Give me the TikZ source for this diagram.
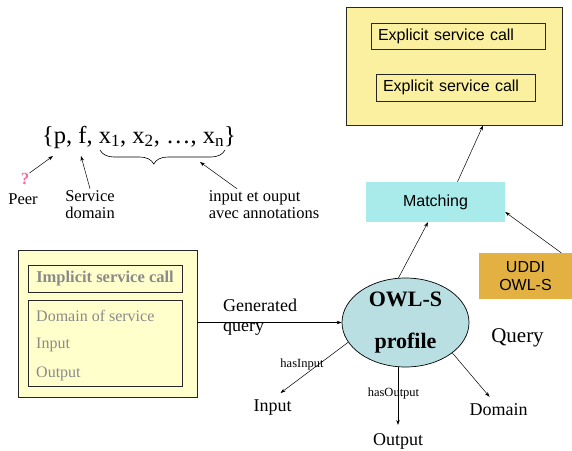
\documentclass[tikz,border=0pt]{standalone}
\usepackage{fontspec}
\setmainfont{Liberation Serif}
\setsansfont{Liberation Sans}
\usetikzlibrary{shapes.geometric,arrows.meta,decorations.pathreplacing}
\definecolor{callyellow}{HTML}{FAF0A0}
\definecolor{paleyellow}{HTML}{FFFFCC}
\definecolor{matchcyan}{HTML}{A9EBEA}
\definecolor{uddigold}{HTML}{E2B142}
\definecolor{owlblue}{HTML}{B9DFE2}
\definecolor{peerpink}{HTML}{F06EA0}
\definecolor{softgray}{HTML}{8A8A8A}
\begin{document}
\begin{tikzpicture}[x=1pt,y=-1pt,
    box/.style={draw=black!85,line width=0.9pt,inner sep=0pt},
    sanstxt/.style={font=\sffamily\fontsize{16}{18}\selectfont},
    serif/.style={font=\fontsize{16.5}{17}\selectfont,inner sep=0pt},
    label/.style={font=\fontsize{18}{20}\selectfont,inner sep=0pt},
    small/.style={font=\fontsize{12.5}{14}\selectfont,inner sep=0pt},
    arr/.style={-{Stealth[length=5pt,width=3.5pt]},line width=0.5pt}]
    \useasboundingbox (0,0) rectangle (572,450);
    \node [box,fill=callyellow,minimum width=216,minimum height=118] (explicit) at (454,66) {};
    \node [box,sanstxt,minimum width=174,minimum height=26,text width=160,align=left] (call1) at (458,36) {Explicit service call};
    \node [box,sanstxt,minimum width=159,minimum height=27,text width=145,align=left] (call2) at (455.5,87.5) {Explicit service call};
    \node [fill=matchcyan,sanstxt,minimum width=139,minimum height=40,inner sep=0pt] (match) at (435.5,202) {Matching};
    \node [fill=uddigold,sanstxt,minimum width=93,minimum height=46,inner sep=0pt,align=center] (uddi) at (525.5,276) {UDDI\\OWL-S};
    \node [ellipse,draw,line width=0.7pt,fill=owlblue,minimum width=127,minimum height=89,inner sep=0pt,align=center,
        font=\bfseries\fontsize{22}{26}\selectfont] (owl) at (405.5,322.5) {OWL-S\\[16pt]profile};
    \node [font=\fontsize{21}{24}\selectfont,inner sep=0pt] (query) at (517.5,338) {Query};
    \node [box,fill=paleyellow,minimum width=179,minimum height=147] (implbox) at (107.5,323.5) {};
    \node [box,minimum width=154,minimum height=27,text=softgray,font=\bfseries\fontsize{16.5}{18}\selectfont] (implicit) at (105,278.5) {Implicit service call};
    \node [box,minimum width=154,minimum height=86] (domainbox) at (105,343) {};
    \node [font=\fontsize{16}{18}\selectfont,inner sep=0pt,anchor=west,text=softgray] (domsvc) at (36,316) {Domain of service};
    \node [font=\fontsize{16}{18}\selectfont,inner sep=0pt,anchor=west,text=softgray] (insvc) at (36,345) {Input};
    \node [font=\fontsize{16}{18}\selectfont,inner sep=0pt,anchor=west,text=softgray] (outsvc) at (36,374) {Output};
    \node [label,anchor=west,align=left] (genq) at (223,317) {Generated\\query};
    \node [label] (input) at (272.5,408) {Input};
    \node [label] (output) at (398,441) {Output};
    \node [label] (domain) at (498.5,410) {Domain};
    \node [small] (hasin) at (302,364) {hasInput};
    \node [small] (hasout) at (393.5,393) {hasOutput};
    \node [font=\fontsize{24.5}{28}\selectfont,inner sep=0pt,anchor=base west] (tuple) at (42,143)
        {\{p, f, x\textsubscript{1}, x\textsubscript{2}, …, x\textsubscript{n}\}};
    \node [font=\bfseries\fontsize{17}{19}\selectfont,text=peerpink,inner sep=0pt] (qmark) at (25,179) {?};
    \node [serif] (peer) at (23,199) {Peer};
    \node [serif,align=left] (sdom) at (90,205) {Service\\domain};
    \node [serif,align=left] (annot) at (264,205) {input et ouput\\avec annotations};
    \coordinate (pfoot) at (53,156);
    \coordinate (ffoot) at (81,156);
    \coordinate (braceL) at (100,150);
    \coordinate (braceR) at (225,150);
    \coordinate (bracept) at (200,162);
    \draw [decorate,decoration={brace,mirror,amplitude=14pt,aspect=0.43},line width=0.6pt] (braceL) -- (braceR);
    \draw [arr] (qmark.north east) -- (pfoot);
    \draw [arr] ([yshift=2pt]sdom.north) -- (ffoot);
    \draw [arr] ([xshift=-27pt,yshift=2pt]annot.north) -- (bracept);
    \draw [arr] (implbox.east |- owl.west) -- (owl.west);
    \draw [arr] (owl.-161) -- ([xshift=8pt,yshift=7pt]input.north);
    \draw [arr] (owl.south -| output.north) -- ([yshift=8pt]output.north);
    \draw [arr] (owl.-33) -- ([xshift=-9pt,yshift=7pt]domain.north);
    \draw [arr] (owl.99) -- ([xshift=-7.5pt]match.south);
    \draw [arr] ([xshift=-11pt]uddi.north east) -- ([yshift=-10pt]match.east);
    \draw [arr] ([xshift=22pt]match.north) -- ([xshift=29pt]explicit.south);
\end{tikzpicture}
\end{document}
